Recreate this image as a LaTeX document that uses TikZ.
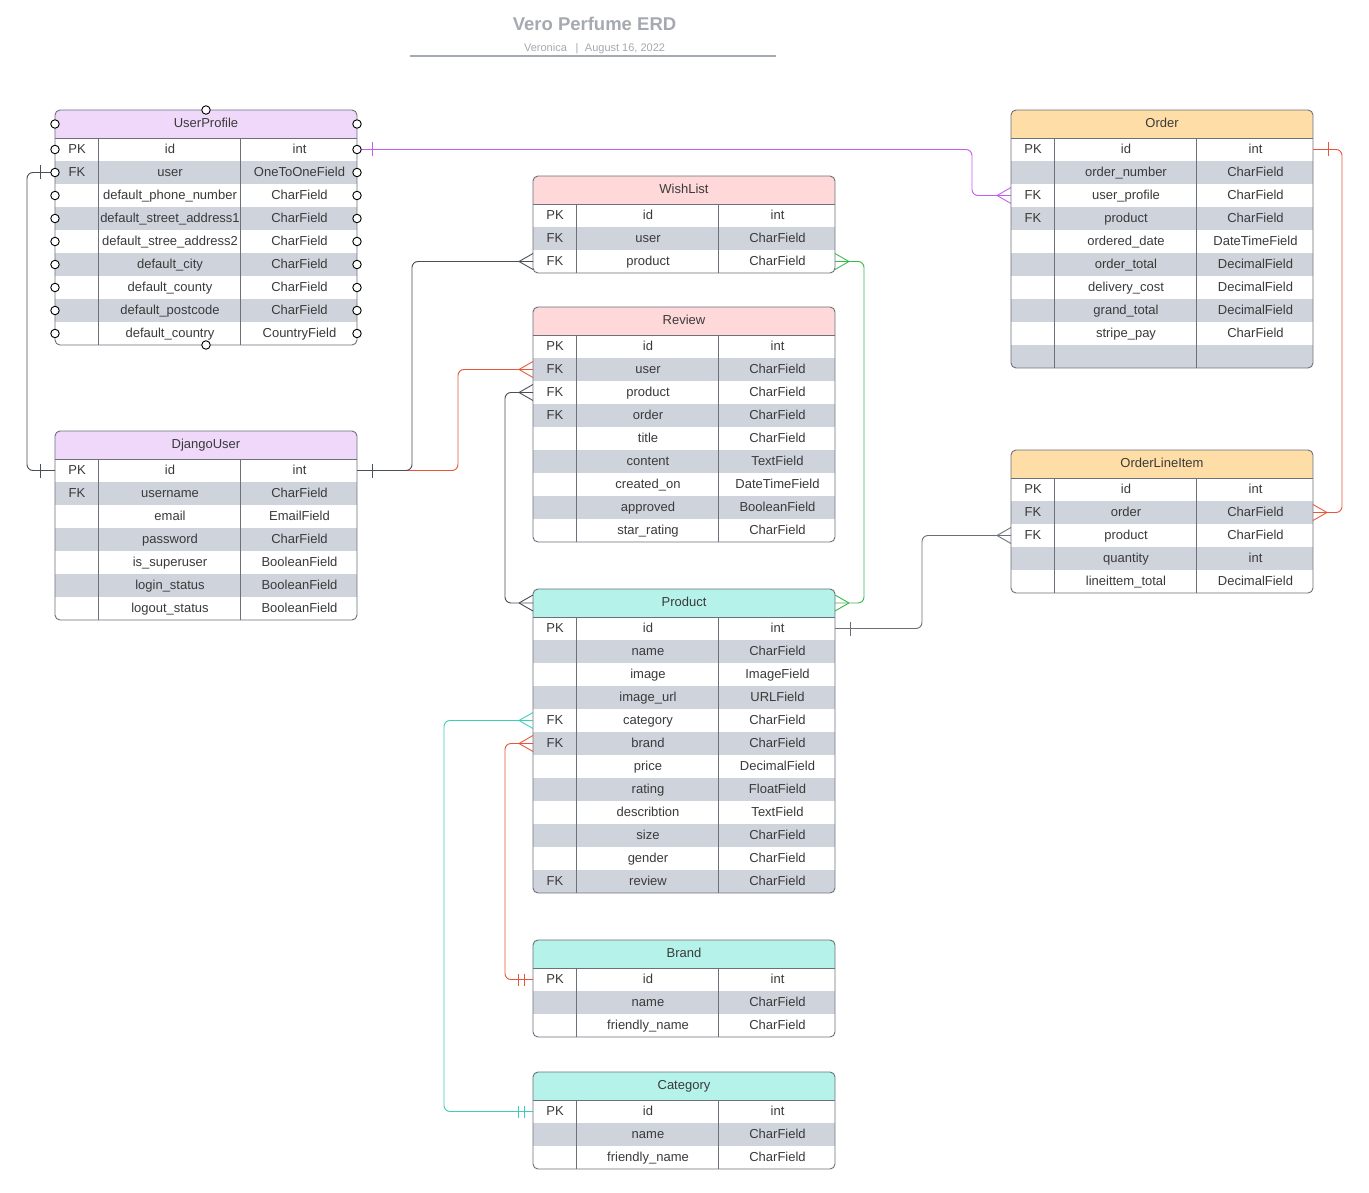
\documentclass[tikz,border=0pt]{standalone}
\usepackage{fontspec}
\setmainfont{Liberation Sans}
\usetikzlibrary{calc}
\definecolor{txt}{HTML}{3A3A3A}
\definecolor{bordergray}{HTML}{6B7079}
\definecolor{rowgray}{HTML}{CFD4DC}
\definecolor{hdrpurple}{HTML}{F0D8FB}
\definecolor{hdrpink}{HTML}{FFD9DA}
\definecolor{hdrorange}{HTML}{FFDDA6}
\definecolor{hdrcyan}{HTML}{B5F3EA}
\definecolor{titlegray}{HTML}{A5A9B0}
\definecolor{cpurple}{HTML}{C65BEF}
\definecolor{cred}{HTML}{E8553A}
\definecolor{cgreen}{HTML}{3DB84A}
\definecolor{cteal}{HTML}{3CCFB8}
\definecolor{cdark}{HTML}{4A4F55}
\definecolor{cgray}{HTML}{6B7078}
\tikzset{
  tbltext/.style={font=\fontsize{13}{15}\selectfont, text=txt, inner sep=0pt, anchor=base},
  tblline/.style={draw=bordergray, line width=0.9pt},
  conn/.style={line width=0.9pt, rounded corners=6pt},
  handle/.style={circle, draw=black, fill=white, line width=0.9pt, inner sep=0pt, minimum size=8.5pt}
}
% #1 name, #2 x, #3 y, #4 header colour, #5 title, #6 rows count, #7 rows
\newcommand\erdtable[7]{%
  \pgfmathsetmacro\tb{#3+28+23*#6}
  \begin{scope}
    \clip[rounded corners=5pt] (#2,#3) rectangle (#2+302,\tb);
    \fill[#4] (#2,#3) rectangle (#2+302,#3+28);
    \foreach [count=\i] \a/\b/\c in {#7} {
      \ifodd\i\relax\else
        \fill[rowgray] (#2,#3+28+23*\i-23) rectangle (#2+302,#3+28+23*\i);
      \fi
    }
  \end{scope}
  \draw[tblline] (#2,#3+28) -- (#2+302,#3+28);
  \draw[tblline] (#2+43,#3+28) -- (#2+43,\tb);
  \draw[tblline] (#2+185,#3+28) -- (#2+185,\tb);
  \draw[tblline, rounded corners=5pt] (#2,#3) rectangle (#2+302,\tb);
  \node[tbltext] (#1-title) at (#2+151,#3+17.5) {#5};
  \coordinate (#1-h-w) at (#2,#3+14);
  \coordinate (#1-h-e) at (#2+302,#3+14);
  \foreach [count=\i] \a/\b/\c in {#7} {
    \node[tbltext] (#1-\i-k) at (#2+22,#3+28+23*\i-7.5) {\a};
    \node[tbltext] (#1-\i-n) at (#2+115,#3+28+23*\i-7.5) {\b};
    \node[tbltext] (#1-\i-t) at (#2+244.5,#3+28+23*\i-7.5) {\c};
    \coordinate (#1-\i-w) at (#2,#3+28+23*\i-11.5);
    \coordinate (#1-\i-e) at (#2+302,#3+28+23*\i-11.5);
  }
}
% crow's foot: #1 coordinate at table edge, #2 side (+1 line comes from the right, -1 from the left), #3 colour
\newcommand\crowfoot[3]{%
  \draw[#3, line width=0.9pt] ($(#1)+(#2*14,0)$) -- ($(#1)+(0,-8)$)
    ($(#1)+(#2*14,0)$) -- ($(#1)+(0,8)$);
}
\newcommand\onebar[3]{%
  \draw[#3, line width=0.9pt] ($(#1)+(#2*15,-7)$) -- ($(#1)+(#2*15,7)$);
}
\newcommand\twobar[3]{%
  \draw[#3, line width=0.9pt] ($(#1)+(#2*15,-6)$) -- ($(#1)+(#2*15,6)$)
    ($(#1)+(#2*9,-6)$) -- ($(#1)+(#2*9,6)$);
}
\begin{document}
\begin{tikzpicture}[x=1pt,y=-1pt]
\useasboundingbox (0,0) rectangle (1369,1193);
\fill[white] (0,0) rectangle (1369,1193);

% title block
\node[font=\fontsize{18.5}{22}\selectfont\bfseries, text=titlegray, inner sep=0pt, anchor=base] (title) at (594.5,30.5) {Vero Perfume ERD};
\node[font=\fontsize{11}{13}\selectfont, text=titlegray, inner sep=0pt, anchor=base] (author) at (545.5,51.5) {Veronica};
\node[font=\fontsize{11}{13}\selectfont, text=titlegray, inner sep=0pt, anchor=base] (sep) at (577,51.5) {|};
\node[font=\fontsize{11}{13}\selectfont, text=titlegray, inner sep=0pt, anchor=base] (date) at (625,51.5) {August 16, 2022};
\coordinate (rule-l) at (410,56);
\coordinate (rule-r) at (776,56);
\draw[titlegray, line width=1.2pt] (rule-l) -- (rule-r);

% tables
\erdtable{UP}{55}{110}{hdrpurple}{UserProfile}{9}{PK/id/int, FK/user/OneToOneField, /default\_phone\_number/CharField, /default\_street\_address1/CharField, /default\_stree\_address2/CharField, /default\_city/CharField, /default\_county/CharField, /default\_postcode/CharField, /default\_country/CountryField}
\erdtable{DU}{55}{431}{hdrpurple}{DjangoUser}{7}{PK/id/int, FK/username/CharField, /email/EmailField, /password/CharField, /is\_superuser/BooleanField, /login\_status/BooleanField, /logout\_status/BooleanField}
\erdtable{WL}{533}{176}{hdrpink}{WishList}{3}{PK/id/int, FK/user/CharField, FK/product/CharField}
\erdtable{RV}{533}{307}{hdrpink}{Review}{9}{PK/id/int, FK/user/CharField, FK/product/CharField, FK/order/CharField, /title/CharField, /content/TextField, /created\_on/DateTimeField, /approved/BooleanField, /star\_rating/CharField}
\erdtable{PR}{533}{589}{hdrcyan}{Product}{12}{PK/id/int, /name/CharField, /image/ImageField, /image\_url/URLField, FK/category/CharField, FK/brand/CharField, /price/DecimalField, /rating/FloatField, /describtion/TextField, /size/CharField, /gender/CharField, FK/review/CharField}
\erdtable{BR}{533}{940}{hdrcyan}{Brand}{3}{PK/id/int, /name/CharField, /friendly\_name/CharField}
\erdtable{CA}{533}{1072}{hdrcyan}{Category}{3}{PK/id/int, /name/CharField, /friendly\_name/CharField}
\erdtable{OR}{1011}{110}{hdrorange}{Order}{10}{PK/id/int, /order\_number/CharField, FK/user\_profile/CharField, FK/product/CharField, /ordered\_date/DateTimeField, /order\_total/DecimalField, /delivery\_cost/DecimalField, /grand\_total/DecimalField, /stripe\_pay/CharField, {}/{}/{}}
\erdtable{OL}{1011}{450}{hdrorange}{OrderLineItem}{5}{PK/id/int, FK/order/CharField, FK/product/CharField, /quantity/int, /lineittem\_total/DecimalField}

% connectors
% UserProfile.id -> Order.user_profile
\draw[conn, cpurple] (UP-1-e) -| ([xshift=-39pt]OR-3-w) -- (OR-3-w);
\onebar{UP-1-e}{1}{cpurple}
\crowfoot{OR-3-w}{-1}{cpurple}
% UserProfile.user -> DjangoUser.id
\draw[conn, cdark] (UP-2-w) -- ([xshift=-28pt]UP-2-w) |- (DU-1-w);
\onebar{UP-2-w}{-1}{cdark}
\onebar{DU-1-w}{-1}{cdark}
% DjangoUser.id -> Review.user
\draw[conn, cred] (DU-1-e) -| ([xshift=-75pt]RV-2-w) -- (RV-2-w);
\crowfoot{RV-2-w}{-1}{cred}
% DjangoUser.id -> WishList.product
\draw[conn, cdark] (DU-1-e) -| ([xshift=-121pt]WL-3-w) -- (WL-3-w);
\onebar{DU-1-e}{1}{cdark}
\crowfoot{WL-3-w}{-1}{cdark}
% Review.product -> Product
\draw[conn, cdark] (RV-3-w) -- ([xshift=-28pt]RV-3-w) |- (PR-h-w);
\crowfoot{RV-3-w}{-1}{cdark}
\crowfoot{PR-h-w}{-1}{cdark}
% WishList.product -> Product
\draw[conn, cgreen] (WL-3-e) -- ([xshift=29pt]WL-3-e) |- (PR-h-e);
\crowfoot{WL-3-e}{1}{cgreen}
\crowfoot{PR-h-e}{1}{cgreen}
% Product.id -> OrderLineItem.product
\draw[conn, cgray] (PR-1-e) -| ([xshift=-89pt]OL-3-w) -- (OL-3-w);
\onebar{PR-1-e}{1}{cgray}
\crowfoot{OL-3-w}{-1}{cgray}
% Order.id -> OrderLineItem.order
\draw[conn, cred] (OR-1-e) -- ([xshift=29pt]OR-1-e) |- (OL-2-e);
\onebar{OR-1-e}{1}{cred}
\crowfoot{OL-2-e}{1}{cred}
% Product.category -> Category.id
\draw[conn, cteal] (PR-5-w) -- ([xshift=-89pt]PR-5-w) |- (CA-1-w);
\crowfoot{PR-5-w}{-1}{cteal}
\twobar{CA-1-w}{-1}{cteal}
% Product.brand -> Brand.id
\draw[conn, cred] (PR-6-w) -- ([xshift=-28pt]PR-6-w) |- (BR-1-w);
\crowfoot{PR-6-w}{-1}{cred}
\twobar{BR-1-w}{-1}{cred}

% selection handles on UserProfile
\node[handle] (hd-top) at (206,110) {};
\node[handle] (hd-bot) at (206,345) {};
\node[handle] (hd-hl) at (UP-h-w) {};
\node[handle] (hd-hr) at (UP-h-e) {};
\foreach \i in {1,...,9} {
  \node[handle] (hd-l\i) at (UP-\i-w) {};
  \node[handle] (hd-r\i) at (UP-\i-e) {};
}
\end{tikzpicture}
\end{document}
